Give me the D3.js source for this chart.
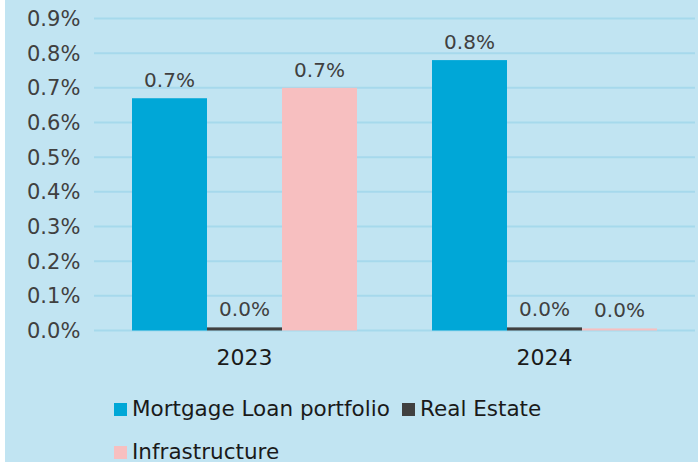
<!DOCTYPE html>
<html>
<head>
<meta charset="utf-8">
<script src="https://cdn.jsdelivr.net/npm/d3@7"></script>
<style>
  body { margin: 0; background: #ffffff; }
  svg { display: block; font-family: "DejaVu Sans", sans-serif; }
</style>
</head>
<body>
<div id="chart"></div>
<script>
// data (values in %)
var years = ["2023", "2024"];
var seriesNames = ["Mortgage Loan portfolio", "Real Estate", "Infrastructure"];
var seriesColors = ["#00a7d7", "#404040", "#f7bfc0"];
var mortgage = [0.67, 0.78];
var realEstate = [0.009, 0.009];
var infrastructure = [0.70, 0.006];
var yTicks = [0, 0.1, 0.2, 0.3, 0.4, 0.5, 0.6, 0.7, 0.8, 0.9];

var width = 698, height = 462;

var svg = d3.select("#chart").append("svg")
    .attr("width", width)
    .attr("height", height);

// panel background
svg.append("rect")
    .attr("x", 5).attr("y", 0)
    .attr("width", width - 5).attr("height", height)
    .attr("fill", "#c1e4f2");

var x0 = d3.scaleBand()
    .domain(years)
    .range([94.5, 694.5])
    .paddingInner(0.25)
    .paddingOuter(0.125);

var x1 = d3.scaleBand()
    .domain(seriesNames)
    .range([0, x0.bandwidth()]);

var y = d3.scaleLinear()
    .domain([0, 0.9])
    .range([330.5, 18.5]);

// gridlines
svg.append("g").selectAll("line")
    .data(yTicks)
    .enter().append("line")
    .attr("x1", 94).attr("x2", 695)
    .attr("y1", function(d) { return y(d); })
    .attr("y2", function(d) { return y(d); })
    .attr("stroke", "#a6d9ec")
    .attr("stroke-width", 2);

// y tick labels (left aligned like the original)
svg.append("g").selectAll("text")
    .data(yTicks)
    .enter().append("text")
    .attr("x", 27)
    .attr("y", function(d) { return y(d); })
    .attr("dy", "0.36em")
    .attr("font-size", 21)
    .attr("fill", "#404040")
    .text(function(d) { return d3.format(".1f")(d) + "%"; });

var table = years.map(function(yr, i) {
    return {
        year: yr,
        values: [mortgage[i], realEstate[i], infrastructure[i]].map(function(v, j) {
            return { name: seriesNames[j], value: v, color: seriesColors[j] };
        })
    };
});

var groups = svg.append("g").selectAll("g")
    .data(table)
    .enter().append("g")
    .attr("transform", function(d) { return "translate(" + x0(d.year) + ",0)"; });

groups.selectAll("rect")
    .data(function(d) { return d.values; })
    .enter().append("rect")
    .attr("x", function(d) { return x1(d.name); })
    .attr("width", x1.bandwidth())
    .attr("y", function(d) { return y(d.value); })
    .attr("height", function(d) { return y(0) - y(d.value); })
    .attr("fill", function(d) { return d.color; });

groups.selectAll("text")
    .data(function(d) { return d.values; })
    .enter().append("text")
    .attr("x", function(d) { return x1(d.name) + x1.bandwidth() / 2; })
    .attr("y", function(d) { return y(d.value) - 11; })
    .attr("text-anchor", "middle")
    .attr("font-size", 20)
    .attr("fill", "#404040")
    .text(function(d) { return d3.format(".1f")(d.value) + "%"; });

// x axis labels
svg.append("g").selectAll("text")
    .data(years)
    .enter().append("text")
    .attr("x", function(d) { return x0(d) + x0.bandwidth() / 2; })
    .attr("y", 365)
    .attr("text-anchor", "middle")
    .attr("font-size", 22)
    .attr("fill", "#1a1a1a")
    .text(function(d) { return d; });

// legend
var legendPos = [[114, 416], [402, 416], [114, 459]];
var legend = svg.append("g").selectAll("g")
    .data(seriesNames)
    .enter().append("g")
    .attr("transform", function(d, i) { return "translate(" + legendPos[i][0] + "," + legendPos[i][1] + ")"; });

legend.append("rect")
    .attr("x", 0).attr("y", -13)
    .attr("width", 13).attr("height", 13)
    .attr("fill", function(d, i) { return seriesColors[i]; });

legend.append("text")
    .attr("x", 18)
    .attr("y", 0)
    .attr("font-size", 21.5)
    .attr("fill", "#1a1a1a")
    .text(function(d) { return d; });
</script>
</body>
</html>
